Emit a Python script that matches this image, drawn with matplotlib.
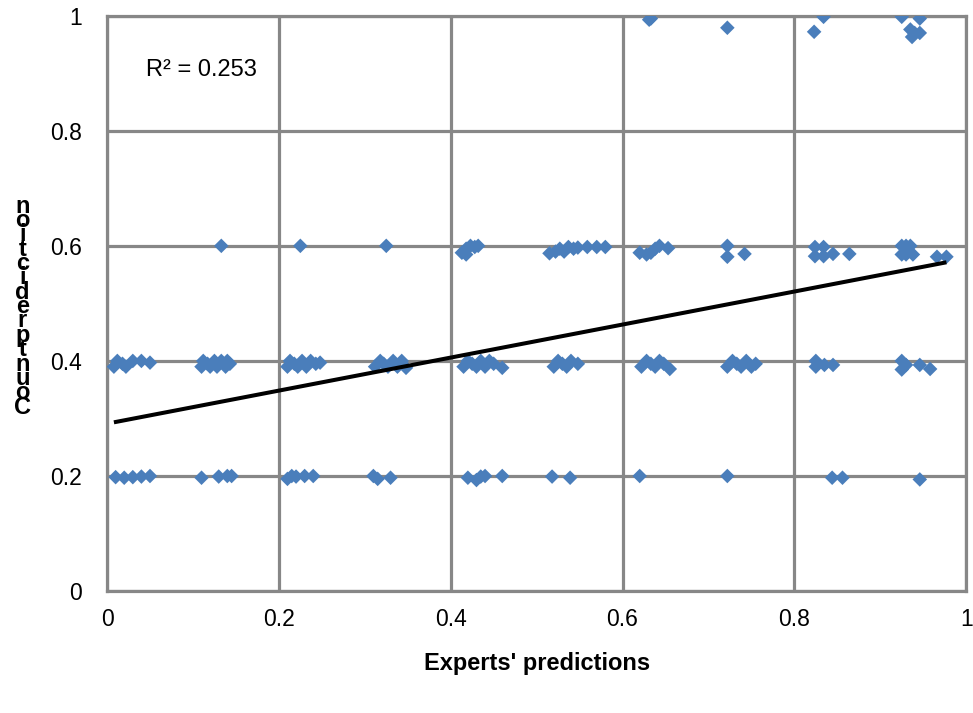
import matplotlib
matplotlib.use("Agg")
import matplotlib.pyplot as plt
import numpy as np

# ---- data ----
# row near 0.4
x_04 = [0.008, 0.012, 0.018, 0.022, 0.030, 0.040, 0.050,
        0.110, 0.112, 0.117, 0.120, 0.125, 0.128, 0.133, 0.138, 0.140, 0.143,
        0.210, 0.213, 0.218, 0.222, 0.227, 0.232, 0.237, 0.243, 0.248,
        0.312, 0.318, 0.322, 0.327, 0.333, 0.338, 0.343, 0.348,
        0.415, 0.420, 0.425, 0.430, 0.435, 0.440, 0.445, 0.450, 0.460,
        0.520, 0.525, 0.530, 0.535, 0.540, 0.548,
        0.622, 0.628, 0.633, 0.638, 0.643, 0.648, 0.655,
        0.722, 0.728, 0.733, 0.738, 0.744, 0.750, 0.755,
        0.825, 0.825, 0.835, 0.845,
        0.925, 0.925, 0.930, 0.946, 0.958]
y_04 = [0.390, 0.400, 0.395, 0.390, 0.400, 0.400, 0.397,
        0.390, 0.400, 0.395, 0.390, 0.400, 0.390, 0.400, 0.390, 0.400, 0.395,
        0.390, 0.400, 0.395, 0.390, 0.400, 0.390, 0.400, 0.395, 0.397,
        0.390, 0.400, 0.395, 0.390, 0.400, 0.390, 0.400, 0.388,
        0.390, 0.400, 0.395, 0.390, 0.400, 0.390, 0.400, 0.395, 0.388,
        0.390, 0.400, 0.395, 0.390, 0.400, 0.395,
        0.390, 0.400, 0.395, 0.390, 0.400, 0.395, 0.386,
        0.390, 0.400, 0.395, 0.390, 0.400, 0.390, 0.395,
        0.400, 0.390, 0.393, 0.393,
        0.400, 0.385, 0.393, 0.393, 0.386]

# row near 0.2
x_02 = [0.010, 0.020, 0.030, 0.040, 0.050,
        0.110, 0.130, 0.140, 0.145,
        0.210, 0.215, 0.220, 0.230, 0.240,
        0.310, 0.315, 0.330,
        0.420, 0.430, 0.435, 0.440, 0.460,
        0.518, 0.539, 0.620, 0.722, 0.844, 0.856, 0.946]
y_02 = [0.198, 0.197, 0.198, 0.199, 0.200,
        0.197, 0.199, 0.200, 0.200,
        0.195, 0.200, 0.199, 0.200, 0.200,
        0.200, 0.195, 0.197,
        0.197, 0.193, 0.199, 0.200, 0.200,
        0.199, 0.197, 0.200, 0.200, 0.197, 0.197, 0.194]

# row near 0.6
x_06 = [0.133, 0.225, 0.325,
        0.413, 0.418, 0.418, 0.423, 0.428, 0.432,
        0.515, 0.522, 0.527, 0.532, 0.537, 0.543, 0.548, 0.559, 0.570, 0.580,
        0.620, 0.628, 0.633, 0.638, 0.643, 0.653,
        0.722, 0.722, 0.742,
        0.824, 0.834, 0.824, 0.834, 0.845, 0.864,
        0.925, 0.930, 0.935, 0.925, 0.930, 0.938, 0.966, 0.977]
y_06 = [0.600, 0.600, 0.600,
        0.588, 0.595, 0.585, 0.600, 0.598, 0.600,
        0.587, 0.590, 0.595, 0.590, 0.598, 0.595, 0.597, 0.598, 0.598, 0.598,
        0.588, 0.585, 0.588, 0.595, 0.600, 0.596,
        0.600, 0.581, 0.586,
        0.598, 0.598, 0.582, 0.582, 0.586, 0.586,
        0.600, 0.600, 0.600, 0.585, 0.585, 0.585, 0.581, 0.581]

# row near 1.0
x_10 = [0.631, 0.633, 0.722, 0.834, 0.823, 0.925, 0.946, 0.935, 0.937, 0.946, 0.940]
y_10 = [0.993, 0.995, 0.979, 0.998, 0.972, 0.998, 0.995, 0.976, 0.963, 0.970, 0.970]

# linear trend line as shown on the chart
trend_intercept = 0.291
trend_slope = 0.287
r2_text = "R² = 0.253"

x_ticks = [0, 0.2, 0.4, 0.6, 0.8, 1]
y_ticks = [0, 0.2, 0.4, 0.6, 0.8, 1]
x_label = "Experts' predictions"
y_label = "Count prediction"

xs = np.array(x_04 + x_02 + x_06 + x_10)
ys = np.array(y_04 + y_02 + y_06 + y_10)

plt.rcParams['font.family'] = ['Liberation Sans', 'DejaVu Sans']

grid_col = '#878787'
fig = plt.figure(figsize=(9.73, 7.13), dpi=100)
ax = fig.add_axes([0.110, 0.171, 0.883, 0.807])

ax.scatter(xs, ys, marker='D', s=55, color='#4a7ebb', edgecolors='none', zorder=3)

tx = np.array([xs.min(), xs.max()])
ax.plot(tx, trend_intercept + trend_slope * tx, color='black', lw=2.9, zorder=4,
        solid_capstyle='butt')

ax.set_xlim(0, 1)
ax.set_ylim(0, 1)
ax.set_xticks(x_ticks)
ax.set_yticks(y_ticks)
ax.set_xticklabels([f"{v:g}" for v in x_ticks])
ax.set_yticklabels([f"{v:g}" for v in y_ticks])
ax.tick_params(length=0, labelsize=16.5, pad=12)
ax.tick_params(axis='y', pad=18)
ax.grid(True, color=grid_col, lw=2.3, zorder=0)
ax.set_axisbelow(True)
for sp in ax.spines.values():
    sp.set_color(grid_col)
    sp.set_linewidth(2.3)

ax.text(0.045, 0.905, r2_text, transform=ax.transAxes, fontsize=17, va='center')

fig.text(0.552, 0.069, x_label, fontsize=17, fontweight='bold', ha='center', va='center')

stacked = "\n".join(reversed(y_label.replace(" ", "")))
fig.text(0.023, 0.57, stacked, fontsize=17, fontweight='bold', ha='center', va='center',
         linespacing=0.52, multialignment='center')

fig.savefig("out.png", dpi=100)
